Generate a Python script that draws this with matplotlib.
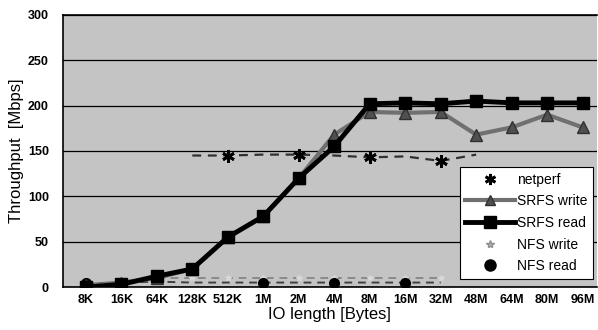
import matplotlib.pyplot as plt
from matplotlib.lines import Line2D

plt.rcParams['font.family'] = ['Liberation Sans', 'DejaVu Sans']

sizes = ['8K', '16K', '64K', '128K', '512K', '1M', '2M', '4M', '8M',
         '16M', '32M', '48M', '64M', '80M', '96M']
srfs_read = [0, 3, 12, 20, 55, 78, 120, 155, 202, 203, 202, 205, 203, 203, 203]
srfs_write = [2, 5, 10, 20, 55, 78, 120, 168, 193, 192, 193, 168, 176, 190, 176]
netperf = [None, None, None, 145, 145, 146, 146, 145, 143, 144, 139, 146]
nfs_write = [None, None, 10, 10, 10, 10, 10, 10, 10, 10, 10]
nfs_read = [4, 5, 6, 5, 5, 5, 5, 5, 5, 5, 5]

x = list(range(len(sizes)))

fig = plt.figure(figsize=(5.98, 3.3), dpi=100)
ax = fig.add_axes([0.105, 0.13, 0.893, 0.825])
ax.set_facecolor('#c4c4c4')

# netperf: dashed with asterisks at a few points
np_x = [i for i, v in enumerate(netperf) if v is not None]
np_y = [v for v in netperf if v is not None]
ax.plot(np_x, np_y, color='#303030', ls=(0, (4, 3)), lw=1.6,
        marker=(6, 2, 0), ms=9, mew=2, mec='black', markevery=[1, 3, 5, 7])

nw_x = [i for i, v in enumerate(nfs_write) if v is not None]
nw_y = [v for v in nfs_write if v is not None]
ax.plot(nw_x, nw_y, color='#8a8a8a', ls=(0, (4, 3)), lw=1.4,
        marker='*', ms=4, mec='#d8d8d8', mfc='#d8d8d8')

ax.plot(range(len(nfs_read)), nfs_read, color='#404040', ls=(0, (4, 3)),
        lw=1.4, marker='o', ms=7, mfc='black', mec='black',
        markevery=[0, 5, 7, 9])

ax.plot(x, srfs_write, color='#707070', lw=3, marker='^', ms=8,
        mfc='#505050', mec='#303030')
ax.plot(x, srfs_read, color='black', lw=3.5, marker='s', ms=9,
        mfc='black', mec='black')

ax.set_ylim(0, 300)
ax.set_xlim(-0.65, 14.4)
ax.set_yticks(range(0, 301, 50))
ax.set_xticks(x)
ax.set_xticklabels(sizes, fontsize=9, fontweight='bold')
for t in ax.get_yticklabels():
    t.set_fontsize(9)
    t.set_fontweight('bold')
ax.tick_params(axis='y', length=0, pad=10)
ax.tick_params(axis='x', length=0, pad=5)
ax.yaxis.grid(True, color='black', lw=0.9)
ax.set_axisbelow(True)
for s in ax.spines.values():
    s.set_linewidth(1.2)
ax.spines['right'].set_visible(False)

ax.set_ylabel('Throughput  [Mbps]', fontsize=12, labelpad=3)
ax.set_xlabel('IO length [Bytes]', fontsize=12, labelpad=1)

handles = [
    Line2D([], [], ls='none', marker=(6, 2, 0), ms=8, mew=2, mec='black'),
    Line2D([], [], color='#707070', lw=3, marker='^', ms=7,
           mfc='#505050', mec='#303030'),
    Line2D([], [], color='black', lw=3.5, marker='s', ms=8,
           mfc='black', mec='black'),
    Line2D([], [], ls='none', marker='*', ms=6, mfc='#b0b0b0', mec='#909090'),
    Line2D([], [], ls='none', marker='o', ms=8, mfc='black', mec='black'),
]
labels = ['netperf', 'SRFS write', 'SRFS read', 'NFS write', 'NFS read']
leg = ax.legend(handles, labels, loc='lower right', fontsize=10, frameon=True,
                fancybox=False, edgecolor='black', framealpha=1,
                handlelength=3.6, handletextpad=0.1, borderpad=0.4,
                labelspacing=0.55, bbox_to_anchor=(1.005, 0.005))
leg.get_frame().set_linewidth(0.8)

fig.savefig('out.png', dpi=100)
